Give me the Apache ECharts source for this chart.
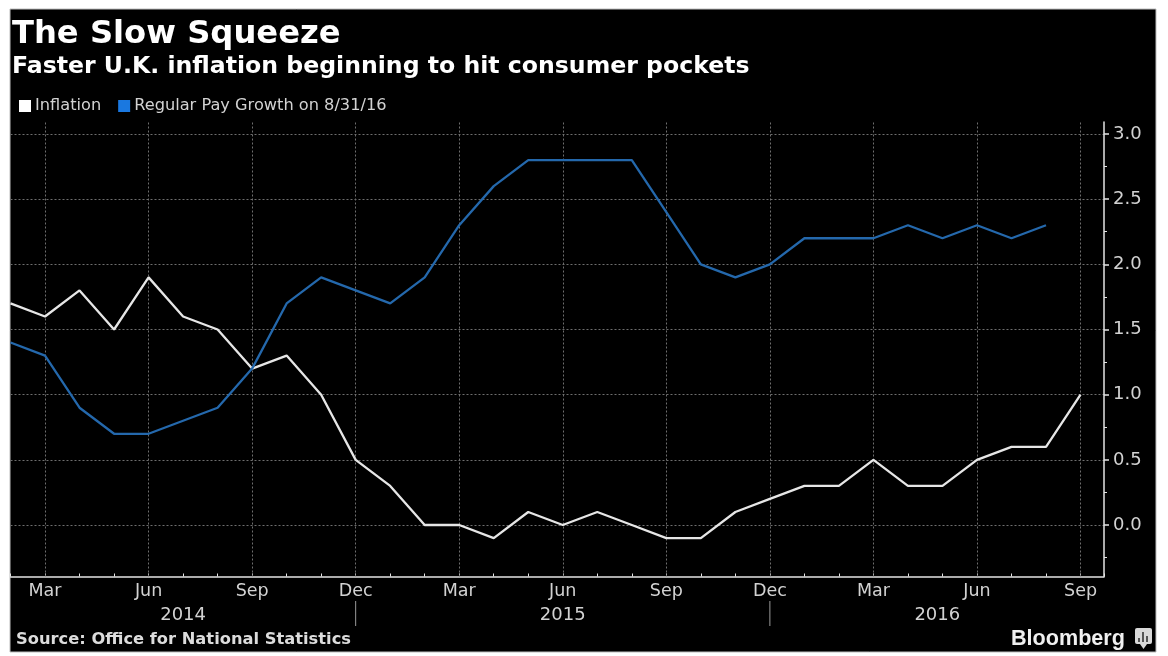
<!DOCTYPE html>
<html><head><meta charset="utf-8">
<style>html,body{margin:0;padding:0;background:#fff}#c{width:1168px;height:656px;filter:blur(0.55px)}</style>
<script src="https://cdn.jsdelivr.net/npm/echarts@6/dist/echarts.min.js"></script>
</head><body><div id="c"></div>
<script>
const monthNames = ['Jan','Feb','Mar','Apr','May','Jun','Jul','Aug','Sep','Oct','Nov','Dec'];
// x = months since Mar 2014 (Feb 2014 = -1)
const inflation = [1.7,1.6,1.8,1.5,1.9,1.6,1.5,1.2,1.3,1.0,0.5,0.3,0.0,0.0,-0.1,0.1,0.0,0.1,0.0,-0.1,-0.1,0.1,0.2,0.3,0.3,0.5,0.3,0.3,0.5,0.6,0.6,1.0];
const payGrowth = [1.4,1.3,0.9,0.7,0.7,0.8,0.9,1.2,1.7,1.9,1.8,1.7,1.9,2.3,2.6,2.8,2.8,2.8,2.8,2.4,2.0,1.9,2.0,2.2,2.2,2.2,2.3,2.2,2.3,2.2,2.3];
const quarterMonths = [0,3,6,9,12,15,18,21,24,27,30];
const yTicks = [0,0.5,1,1.5,2,2.5,3];
const yMinorTicks = [-0.25,0.25,0.75,1.25,1.75,2.25,2.75];
const yearLabels = ['2014','2015','2016'];
const yearCentres = [4,15,25.85];
const yearSeparators = [9,21];
const xMin = -1, xMax = 30.68, yMin = -0.395, yMax = 3.092;
const pts = a => a.map((v,i)=>[i-1,v]);
const W='#e6e6e6', GRID='#6e6e6e', TXT='#d2d2d2', AX='#e4e4e4';
const monthLabel = v => { const r=Math.round(v); if(Math.abs(v-r)>1e-6||!quarterMonths.includes(r)) return ''; return monthNames[(r+2)%12]; };
const chart = echarts.init(document.getElementById('c'),null,{renderer:'canvas'});
const gridDash = {color:GRID,width:1,type:[2,2]};
chart.setOption({
  animation:false, backgroundColor:'#fff',
  grid:{left:10.5,right:64,top:122,bottom:79.5,containLabel:false},
  legend:{left:19,top:98,padding:0,itemWidth:12,itemHeight:12,itemGap:17,icon:'rect',
    textStyle:{color:TXT,fontFamily:'DejaVu Sans',fontSize:16.2,padding:[0,0,0,-1]},
    data:['Inflation','Regular Pay Growth on 8/31/16']},
  xAxis:{type:'value',min:xMin,max:xMax,interval:1,
    axisLine:{onZero:false,lineStyle:{color:AX,width:1.5}},
    axisTick:{show:true,length:3,inside:true,lineStyle:{color:AX}},
    splitLine:{show:false},
    axisLabel:{color:TXT,fontFamily:'DejaVu Sans',fontSize:17.5,margin:6,formatter:monthLabel,showMinLabel:true,showMaxLabel:true}},
  yAxis:[
   {type:'value',position:'right',min:yMin,max:yMax,
    axisLine:{onZero:false,show:true,lineStyle:{color:AX,width:1.5}},
    axisTick:{show:true,length:5,inside:false,lineStyle:{color:AX,width:1.5},customValues:yTicks},
    splitLine:{show:true,lineStyle:gridDash},
    axisLabel:{color:TXT,fontFamily:'DejaVu Sans',fontSize:18,margin:9,padding:[8,0,0,0],customValues:yTicks,
      formatter:v=>v.toFixed(1)}},
   {type:'value',position:'right',min:yMin,max:yMax,
    axisLine:{show:false,onZero:false},
    axisTick:{show:true,length:3,inside:false,lineStyle:{color:AX,width:1},customValues:yMinorTicks},
    splitLine:{show:false},
    axisLabel:{show:false}}
  ],
  series:[
    {name:'Inflation',type:'line',data:pts(inflation),symbol:'none',itemStyle:{color:'#ffffff'},lineStyle:{color:W,width:2.3},z:3,
     markLine:{silent:true,symbol:'none',label:{show:false},lineStyle:gridDash,animation:false,data:quarterMonths.map(m=>({xAxis:m})),z:1}},
    {name:'Regular Pay Growth on 8/31/16',type:'line',data:pts(payGrowth),symbol:'none',itemStyle:{color:'#1a78e0'},lineStyle:{color:'#2468ac',width:2.3},z:4}
  ]
});
const px = m => chart.convertToPixel({xAxisIndex:0},m);
const bgEls = [
  {type:'rect',z:-100,silent:true,shape:{x:10,y:9,width:1146,height:643},style:{fill:'#000',stroke:'#bdbdbd',lineWidth:1}},
  {type:'text',left:12,top:19,style:{text:'The Slow Squeeze',fill:'#fff',font:'bold 32.2px "DejaVu Sans"'}},
  {type:'text',left:12,top:55,style:{text:'Faster U.K. inflation beginning to hit consumer pockets',fill:'#fff',font:'bold 23.6px "DejaVu Sans"'}},
  {type:'text',left:16,top:632,style:{text:'Source: Office for National Statistics',fill:'#dcdcdc',font:'bold 16.3px "DejaVu Sans"'}},
  {type:'text',left:1011,top:628,style:{text:'Bloomberg',fill:'#f0f0f0',font:'bold 21.6px "Liberation Sans"'}},
  {type:'rect',shape:{x:1135,y:628,width:17,height:16,r:2},style:{fill:'#d8d8d8'}},
  {type:'polygon',shape:{points:[[1140,644],[1147,644],[1143.5,649]]},style:{fill:'#d8d8d8'}},
  {type:'rect',shape:{x:1138,y:638,width:2,height:4},style:{fill:'#555'}},
  {type:'rect',shape:{x:1142,y:632,width:2,height:10},style:{fill:'#555'}},
  {type:'rect',shape:{x:1146,y:636,width:2,height:6},style:{fill:'#555'}}
];
yearLabels.forEach((y,i)=>bgEls.push({type:'text',x:px(yearCentres[i]),y:606,style:{text:y,fill:TXT,font:'18px "DejaVu Sans"',textAlign:'center'}}));
yearSeparators.forEach(m=>bgEls.push({type:'line',shape:{x1:px(m),y1:601,x2:px(m),y2:626},style:{stroke:'#9a9a9a',lineWidth:1}}));
chart.setOption({graphic:bgEls});
</script></body></html>
